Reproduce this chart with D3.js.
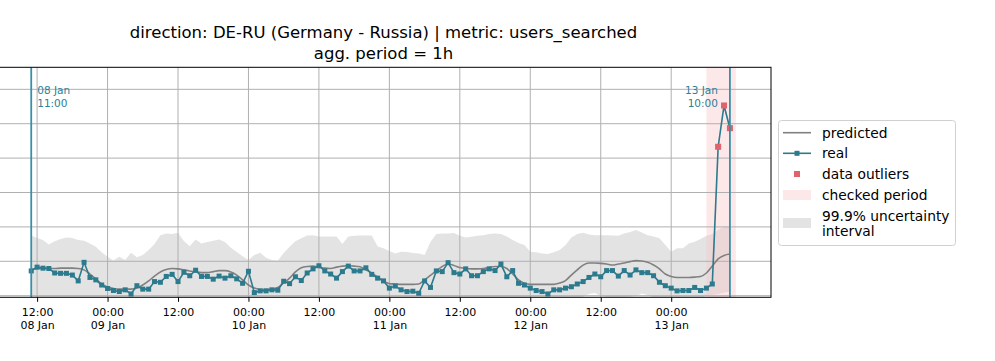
<!DOCTYPE html>
<html><head><meta charset="utf-8">
<script src="https://cdn.jsdelivr.net/npm/d3@7"></script>
<style>body{margin:0;background:#fff}svg{display:block}text{font-family:"DejaVu Sans",sans-serif}</style>
</head><body><div id="chart"></div>
<script>
// hourly series, starting 08 Jan 11:00 (UTC), one value per hour
const seriesStart = "2024-01-08T11:00:00Z";
const real = [72,83,80,79,66,65,65,60,43,97,53,46,31,21,15,12,17,5,29,19,19,41,39,56,62,41,68,58,74,56,56,48,57,51,58,49,36,71,9,14,14,17,16,42,35,55,44,66,78,87,72,63,51,70,86,72,72,81,62,51,43,22,28,17,12,13,7,43,24,72,70,96,67,63,78,58,58,70,78,73,92,55,73,36,31,22,15,12,5,17,17,22,26,34,41,53,63,55,73,73,57,73,60,75,67,67,58,39,29,22,14,15,15,24,15,22,34,433,553,487];
const predicted = [76,79,80,79,79,80,80,80,79,75,63,49,34,25,21,19,19,19,22,31,43,57,69,76,79,78,75,72,69,67,67,70,73,73,69,60,46,31,22,18,18,19,24,37,51,69,81,85,86,83,80,79,83,86,87,86,84,75,66,54,43,35,34,33,33,33,34,46,59,72,85,92,88,82,79,78,78,79,82,85,85,79,63,46,36,33,33,33,33,33,37,44,60,75,89,95,95,94,92,89,92,95,99,102,101,97,89,78,63,56,53,53,53,54,56,66,86,107,117,121];
const upper = [175,168,162,149,158,165,169,168,162,160,152,142,126,113,102,113,104,125,112,118,133,150,176,181,179,183,159,144,163,152,156,160,163,156,139,127,115,104,118,125,110,104,102,124,142,158,167,175,176,172,172,172,172,150,172,174,175,175,175,143,138,130,123,128,127,124,123,118,156,179,181,181,182,174,169,171,174,176,179,181,179,172,162,153,147,128,126,123,121,126,133,147,169,179,183,178,176,176,176,175,174,181,185,191,184,176,172,167,147,128,138,138,152,157,165,174,179,191,201,201];
const lower = [-20,-18,-16,-22,-19,-15,-14,-15,-17,-18,-22,-26,-32,-36,-38,-35,-37,-30,-33,-31,-26,-20,-12,-10,-11,-9,-16,-21,-15,-19,-18,-16,-15,-17,-22,-26,-30,-34,-31,-29,-33,-34,-35,-29,-24,-17,-13,-10,-9,-11,-11,-11,-11,-18,-11,-10,-10,-10,-10,-20,-22,-25,-27,-26,-26,-27,-28,-29,-18,-10,-9,-9,-8,-11,-12,-11,-10,-10,-9,-8,-9,-11,-14,-17,-19,-25,-26,-27,-27,-26,-23,-19,-12,-6,-3,5,8,-1,-4,-5,-6,-4,-3,-1,6,2,-5,-9,-14,-18,-16,-16,-12,-10,-7,-1,2,5,9,12];
const outlierIdx = [117,118,119];
const markers = [{time:"2024-01-08T11:00:00Z", label:["08 Jan","11:00"], side:"right"},
                 {time:"2024-01-13T10:00:00Z", label:["13 Jan","10:00"], side:"left"}];
const checkedPeriod = ["2024-01-13T06:00:00Z","2024-01-13T11:00:00Z"];
const xDomain = ["2024-01-08T05:00:00Z","2024-01-13T17:00:00Z"];
const yDomain = [-4.7, 664];
const yGrid = [0,100,200,300,400,500,600];
const xTickLabels = ["2024-01-08T12:00:00Z","2024-01-09T00:00:00Z","2024-01-09T12:00:00Z","2024-01-10T00:00:00Z","2024-01-10T12:00:00Z","2024-01-11T00:00:00Z","2024-01-11T12:00:00Z","2024-01-12T00:00:00Z","2024-01-12T12:00:00Z","2024-01-13T00:00:00Z"];
const titleLines = ["direction: DE-RU (Germany - Russia) | metric: users_searched","agg. period = 1h"];
const legendItems = ["predicted","real","data outliers","checked period","99.9% uncertainty interval"];

const W=995,H=361, L=-4, R=771, T=67.3, B=297.3;
const C = {real:"#2b7a8d", vline:"#3a90a8", pred:"#808080", band:"#dedede", pink:"#f7c3c8", out:"#e0636c", grid:"#b0b0b0"};

const t0 = new Date(seriesStart);
const times = real.map((_,i)=>new Date(t0.getTime()+i*3600e3));
const x = d3.scaleUtc().domain(xDomain.map(d=>new Date(d))).range([L,R]);
const y = d3.scaleLinear().domain(yDomain).range([B,T]);

const svg = d3.select("#chart").append("svg").attr("width",W).attr("height",H);
svg.append("defs").append("clipPath").attr("id","clip").append("rect")
  .attr("x",L).attr("y",T).attr("width",R-L).attr("height",B-T);
const g = svg.append("g").attr("clip-path","url(#clip)");

// uncertainty band
g.append("path").datum(times).attr("fill",C.band).attr("opacity",0.85)
  .attr("d", d3.area().x(d=>x(d)).y0((d,i)=>y(lower[i])).y1((d,i)=>y(upper[i])));
// checked period
g.append("rect").attr("x",x(new Date(checkedPeriod[0]))).attr("y",T)
  .attr("width",x(new Date(checkedPeriod[1]))-x(new Date(checkedPeriod[0]))).attr("height",B-T)
  .attr("fill",C.pink).attr("opacity",0.4);

// grid
const xTicks = xTickLabels.map(d=>new Date(d));
g.selectAll(".gx").data(xTicks).join("line").attr("x1",d=>x(d)).attr("x2",d=>x(d))
  .attr("y1",T).attr("y2",B).attr("stroke",C.grid).attr("stroke-width",1);
g.selectAll(".gy").data(yGrid).join("line").attr("x1",L).attr("x2",R)
  .attr("y1",d=>y(d)).attr("y2",d=>y(d)).attr("stroke",C.grid).attr("stroke-width",1);

// predicted
g.append("path").datum(times).attr("fill","none").attr("stroke",C.pred).attr("stroke-width",1.6)
  .attr("d", d3.line().curve(d3.curveMonotoneX).x(d=>x(d)).y((d,i)=>y(predicted[i])));
// real
g.append("path").datum(times).attr("fill","none").attr("stroke",C.real).attr("stroke-width",1.6)
  .attr("d", d3.line().x(d=>x(d)).y((d,i)=>y(real[i])));
g.selectAll(".rm").data(times).join("rect").attr("x",d=>x(d)-2.5).attr("y",(d,i)=>y(real[i])-2.5)
  .attr("width",5).attr("height",5).attr("fill",C.real);
g.selectAll(".om").data(outlierIdx).join("rect").attr("x",i=>x(times[i])-3).attr("y",i=>y(real[i])-3)
  .attr("width",6).attr("height",6).attr("fill",C.out);

// marker lines
markers.forEach(m=>{
  const xm = x(new Date(m.time));
  g.append("line").attr("x1",xm).attr("x2",xm).attr("y1",T).attr("y2",B).attr("stroke",C.vline).attr("stroke-width",1.8);
  const tx = m.side==="right" ? xm+6 : xm-12;
  const t = svg.append("text").attr("x",tx).attr("y",94).attr("font-size",10.5).attr("fill","#2c7f97")
    .attr("text-anchor", m.side==="right"?"start":"end");
  m.label.forEach((s,k)=>t.append("tspan").attr("x",tx).attr("dy",k?12.5:0).text(s));
});

// frame
svg.append("rect").attr("x",L).attr("y",T).attr("width",R-L).attr("height",B-T)
  .attr("fill","none").attr("stroke","#000").attr("stroke-width",1);

// x axis
const ax = svg.append("g").attr("transform",`translate(0,${B})`)
  .call(d3.axisBottom(x).tickValues(xTicks).tickSize(4.5).tickFormat(""));
ax.select(".domain").remove();
ax.selectAll(".tick line").attr("stroke","#000");
const fmtH = d3.utcFormat("%H:%M"), fmtD = d3.utcFormat("%d %b");
ax.selectAll(".tick").each(function(d){
  const t = d3.select(this).append("text").attr("fill","#000").attr("font-size",11).attr("text-anchor","middle").attr("y",19);
  t.append("tspan").attr("x",0).text(fmtH(d));
  if (d.getUTCHours()===0 || d.getTime()===xTicks[0].getTime())
    t.append("tspan").attr("x",0).attr("dy",13).text(fmtD(d));
});

// title
svg.append("text").attr("x",(L+R)/2).attr("y",38).attr("text-anchor","middle").attr("font-size",16.5).attr("fill","#000").text(titleLines[0]);
svg.append("text").attr("x",(L+R)/2).attr("y",59).attr("text-anchor","middle").attr("font-size",16.5).attr("fill","#000").text(titleLines[1]);

// legend
const lg = svg.append("g");
lg.append("rect").attr("x",778.5).attr("y",120.5).attr("width",177).attr("height",125).attr("rx",3)
  .attr("fill","#fff").attr("fill-opacity",0.8).attr("stroke","#d0d0d0");
const rowsY = [132.7,153.3,174,195,216];
const hx0=783, hx1=811, tx=822;
lg.append("line").attr("x1",hx0).attr("x2",hx1).attr("y1",rowsY[0]).attr("y2",rowsY[0]).attr("stroke",C.pred).attr("stroke-width",1.6);
lg.append("line").attr("x1",hx0).attr("x2",hx1).attr("y1",rowsY[1]).attr("y2",rowsY[1]).attr("stroke",C.real).attr("stroke-width",1.6);
lg.append("rect").attr("x",(hx0+hx1)/2-2.5).attr("y",rowsY[1]-2.5).attr("width",5).attr("height",5).attr("fill",C.real);
lg.append("rect").attr("x",(hx0+hx1)/2-3).attr("y",rowsY[2]-3).attr("width",6).attr("height",6).attr("fill",C.out);
lg.append("rect").attr("x",hx0).attr("y",rowsY[3]-5).attr("width",hx1-hx0).attr("height",10).attr("fill",C.pink).attr("opacity",0.4);
lg.append("rect").attr("x",hx0).attr("y",rowsY[4]+2).attr("width",hx1-hx0).attr("height",10).attr("fill",C.band).attr("opacity",0.85);
const lt = (s,yy)=>lg.append("text").attr("x",tx).attr("y",yy).attr("dy","0.35em").attr("font-size",13.8).attr("fill","#000").text(s);
lt(legendItems[0],rowsY[0]); lt(legendItems[1],rowsY[1]); lt(legendItems[2],rowsY[2]); lt(legendItems[3],rowsY[3]);
lt("99.9% uncertainty",rowsY[4]); lt("interval",rowsY[4]+15.5);
</script></body></html>
